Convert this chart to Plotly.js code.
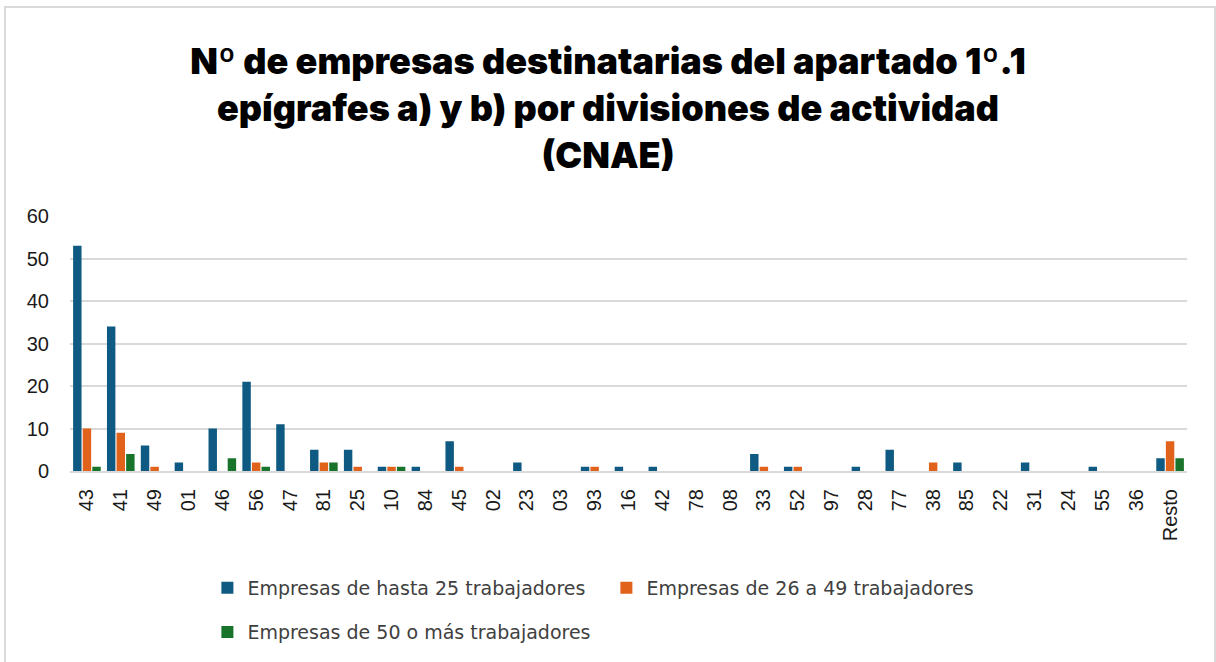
<!DOCTYPE html>
<html>
<head>
<meta charset="utf-8">
<script src="https://cdn.plot.ly/plotly-3.0.1.min.js"></script>
<style>
html,body{margin:0;padding:0;background:#fff;}
#wrap{position:relative;width:1216px;height:662px;}
#chart{width:1216px;height:662px;}
#frame{position:absolute;left:4px;top:6px;width:1208px;height:660px;border:2px solid #d9d9d9;pointer-events:none;}
</style>
</head>
<body>
<div id="wrap"><div id="chart"></div><div id="frame"></div></div>
<script>
const categories = ["43","41","49","01","46","56","47","81","25","10","84","45","02","23","03","93","16","42","78","08","33","52","97","28","77","38","85","22","31","24","55","36","Resto"];
const hasta25 =   [53,34,6,2,10,21,11,5,5,1,1,7,0,2,0,1,1,1,0,0,4,1,0,1,5,0,2,0,2,0,1,0,3];
const de26a49 =   [10,9,1,0,0,2,0,2,1,1,0,1,0,0,0,1,0,0,0,0,1,1,0,0,0,2,0,0,0,0,0,0,7];
const masde50 =   [1,4,0,0,3,1,0,2,0,1,0,0,0,0,0,0,0,0,0,0,0,0,0,0,0,0,0,0,0,0,0,0,3];
const seriesNames = ["Empresas de hasta 25 trabajadores","Empresas de 26 a 49 trabajadores","Empresas de 50 o más trabajadores"];
const colors = ["#0f5a82","#e0621b","#18732b"];
const legendIds = ["legend","legend","legend2"];

const data = [hasta25, de26a49, masde50].map((vals, i) => ({
  type: "bar",
  x: categories,
  y: vals,
  name: seriesNames[i],
  legend: legendIds[i],
  marker: {color: colors[i], line: {width: 0}},
  hoverinfo: "x+y+name"
}));

const legendFont = {family: "DejaVu Sans, Arial, sans-serif", size: 19, color: "#404040"};

const layout = {
  width: 1216, height: 662,
  paper_bgcolor: "#ffffff", plot_bgcolor: "#ffffff",
  margin: {l: 70, r: 29, t: 216, b: 190},
  title: {
    text: "Nº de empresas destinatarias del apartado 1º.1<br>epígrafes a) y b) por divisiones de actividad<br>(CNAE)",
    font: {family: "Inter, Open Sans, Arial, sans-serif", size: 36, color: "#000", weight: 900},
    x: 0.5, xanchor: "center", y: 0.888, yanchor: "top"
  },
  barmode: "group",
  bargap: 0.15,
  bargroupgap: 0.12,
  xaxis: {
    type: "category",
    tickangle: -90,
    tickfont: {family: "Liberation Sans, Arial, sans-serif", size: 20, color: "#1a1a1a"},
    showgrid: false,
    showline: true, linecolor: "#d9d9d9", linewidth: 2,
    ticks: "", ticklen: 0,
    ticklabelstandoff: 8,
    automargin: false
  },
  yaxis: {
    range: [0, 60],
    dtick: 10,
    tickfont: {family: "Liberation Sans, Arial, sans-serif", size: 20, color: "#1a1a1a"},
    showgrid: true, gridcolor: "#d9d9d9", gridwidth: 2,
    zeroline: false,
    ticks: "", ticklabelstandoff: 20,
    automargin: false
  },
  legend: {
    orientation: "h",
    x: 0.123, xanchor: "left",
    y: -0.379, yanchor: "top",
    font: legendFont,
    entrywidth: 354,
    itemwidth: 30
  },
  legend2: {
    orientation: "h",
    x: 0.123, xanchor: "left",
    y: -0.551, yanchor: "top",
    font: legendFont,
    itemwidth: 30
  },
  showlegend: true
};

Plotly.newPlot("chart", data, layout, {displayModeBar: false, staticPlot: true});
</script>
</body>
</html>
